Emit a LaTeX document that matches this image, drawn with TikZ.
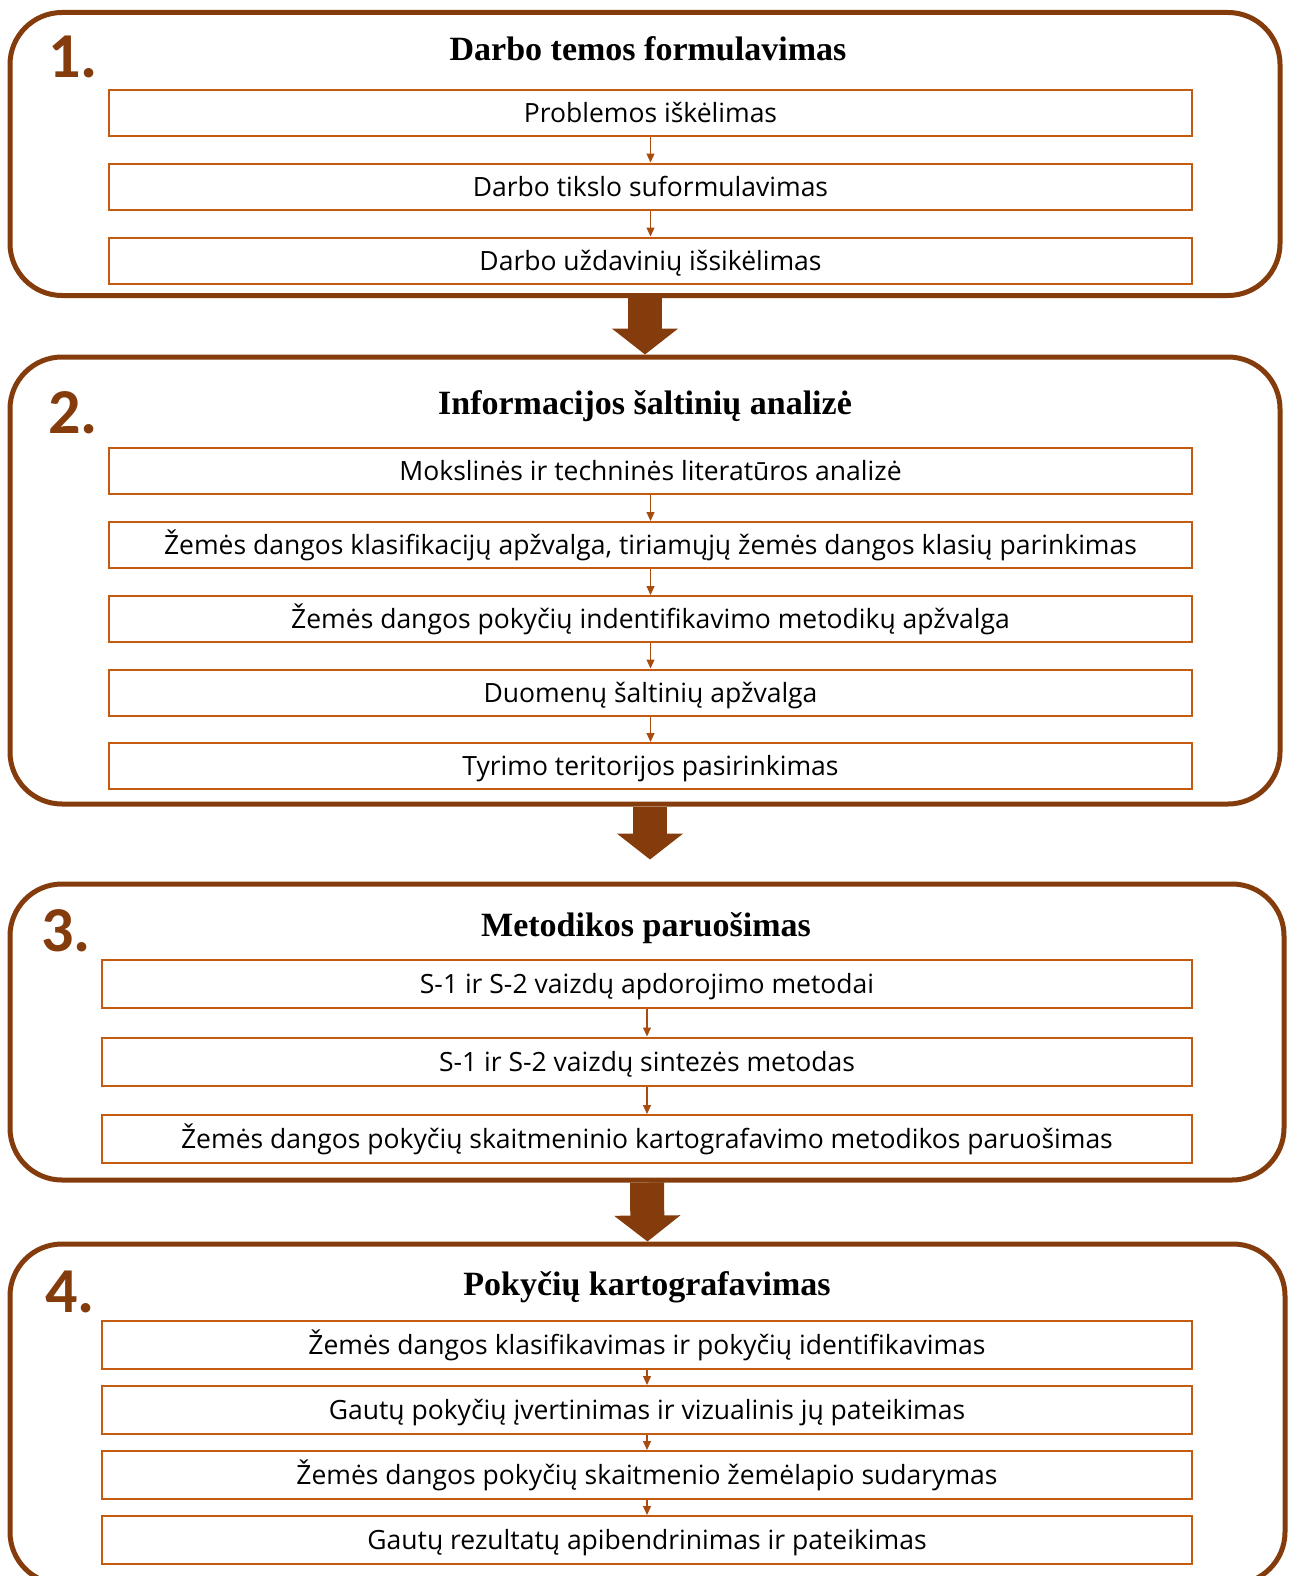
\documentclass[tikz,border=0pt]{standalone}
\usepackage{fontspec}
\setmainfont{Open Sans}
\newfontfamily\titlefont{Liberation Serif}
\newfontfamily\numfont{Carlito}
\usetikzlibrary{arrows.meta,positioning}
\definecolor{panelbrown}{HTML}{843C0C}
\definecolor{boxorange}{HTML}{C55A11}

\begin{document}
\begin{tikzpicture}[x=1pt,y=-1pt,
  panel/.style={draw=panelbrown,line width=5pt,rounded corners=52pt,inner sep=0pt},
  stepbox/.style={draw=boxorange,line width=2pt,fill=white,inner sep=0pt,
    text height=19pt,text depth=0pt,font=\fontsize{26.5}{32}\selectfont},
  wide/.style={minimum width=1083pt,minimum height=46pt},
  wider/.style={minimum width=1090pt,minimum height=48pt},
  head/.style={font=\titlefont\bfseries\fontsize{34}{40}\selectfont,anchor=base},
  num/.style={font=\numfont\bfseries\fontsize{64}{75}\selectfont,text=panelbrown,anchor=base west,inner sep=0pt},
  link/.style={draw=boxorange!85!black,line width=1.2pt,-{Triangle[width=8pt,length=9pt]}},
  bigarrow/.style={draw=panelbrown,line width=34pt,-{Triangle[width=65pt,length=26pt]}}]
  \clip (0,0) rectangle (1295,1576);
  \fill[white] (0,0) rectangle (1295,1576);
  % panels
  \node[panel,minimum width=1270pt,minimum height=283pt] (p1) at (645,154) {};
  \node[panel,minimum width=1270pt,minimum height=447pt] (p2) at (645,580.5) {};
  \node[panel,minimum width=1274pt,minimum height=296pt] (p3) at (647,1032) {};
  \node[panel,minimum width=1275pt,minimum height=340pt] (p4) at (647.5,1414) {};
  % numbers and titles
  \node[num] (n1) at (48,78) {1.};
  \node[num] (n2) at (48,433) {2.};
  \node[num] (n3) at (41,951) {3.};
  \node[num] (n4) at (45,1312) {4.};
  \node[head] (t1) at (648,61) {Darbo temos formulavimas};
  \node[head] (t2) at (645,414) {Informacijos šaltinių analizė};
  \node[head] (t3) at (646,936) {Metodikos paruošimas};
  \node[head] (t4) at (647,1295) {Pokyčių kartografavimas};
  % 1. steps
  \foreach \y/\txt [count=\k] in {113/Problemos iškėlimas, 186.5/Darbo tikslo suformulavimas,
      260.5/Darbo uždavinių išsikėlimas}
    \node[stepbox,wide] (a\k) at (650.5,\y) {\txt};
  % 2. steps
  \foreach \y/\txt [count=\k] in {471/Mokslinės ir techninės literatūros analizė,
      545/{Žemės dangos klasifikacijų apžvalga, tiriamųjų žemės dangos klasių parinkimas},
      619/Žemės dangos pokyčių indentifikavimo metodikų apžvalga,
      692.5/Duomenų šaltinių apžvalga, 766/Tyrimo teritorijos pasirinkimas}
    \node[stepbox,wide] (b\k) at (650.5,\y) {\txt};
  % 3. steps
  \foreach \y/\txt [count=\k] in {984/S-1 ir S-2 vaizdų apdorojimo metodai,
      1061.5/S-1 ir S-2 vaizdų sintezės metodas,
      1139/Žemės dangos pokyčių skaitmeninio kartografavimo metodikos paruošimas}
    \node[stepbox,wider] (c\k) at (647,\y) {\txt};
  % 4. steps
  \foreach \y/\txt [count=\k] in {1345/Žemės dangos klasifikavimas ir pokyčių identifikavimas,
      1410/Gautų pokyčių įvertinimas ir vizualinis jų pateikimas,
      1475/Žemės dangos pokyčių skaitmenio žemėlapio sudarymas,
      1540/Gautų rezultatų apibendrinimas ir pateikimas}
    \node[stepbox,wider] (d\k) at (647,\y) {\txt};
  % small links
  \foreach \u/\v in {a1/a2,a2/a3,b1/b2,b2/b3,b3/b4,b4/b5,c1/c2,c2/c3,d1/d2,d2/d3,d3/d4}
    \draw[link] (\u) -- (\v);
  % big arrows between panels
  \draw[bigarrow] (p1.south) -- (p2.north);
  \draw[bigarrow,shorten >=22pt] ([xshift=5pt]p2.south) -- ([xshift=5pt]p2.south |- p3.north);
  \draw[bigarrow] (p3.south) -- (p4.north);
\end{tikzpicture}
\end{document}
